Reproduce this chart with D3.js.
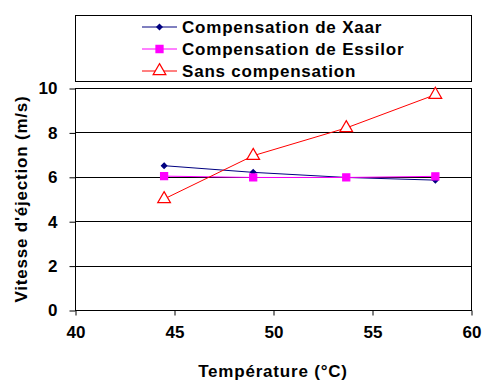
<!DOCTYPE html>
<html lang="fr">
<head>
<meta charset="UTF-8">
<title>Vitesse d'éjection</title>
<script src="https://d3js.org/d3.v7.min.js"></script>
<style>
  body { margin: 0; background: #fff; }
  svg text { font-family: "Liberation Sans", Arial, sans-serif !important; font-weight: bold !important; fill: #000; }
  .label { letter-spacing: 0.8px; }
</style>
</head>
<body>
<script>
  // data
  const temperatures = [44.5, 49.0, 53.7, 58.2];
  const xaar = [6.5, 6.2, 5.97, 5.85];
  const essilor = [6.03, 5.97, 5.97, 6.02];
  const sansComp = [5.0, 6.95, 8.2, 9.7];
  const xTicks = [40, 45, 50, 55, 60];
  const yTicks = [0, 2, 4, 6, 8, 10];

  const width = 484, height = 381;
  const margin = { left: 75, right: 13, top: 88, bottom: 71 };
  const fs = 17;

  const svg = d3.select('body').append('svg').attr('width', width).attr('height', height);

  const x = d3.scaleLinear().domain([40, 60]).range([margin.left, width - margin.right]);
  const y = d3.scaleLinear().domain([0, 10]).range([height - margin.bottom, margin.top]);

  // grid lines
  svg.append('g').selectAll('line')
    .data(yTicks.filter(d => d > 0 && d < 10))
    .enter().append('line')
    .attr('x1', x(40)).attr('x2', x(60))
    .attr('y1', d => Math.round(y(d)) + 0.5).attr('y2', d => Math.round(y(d)) + 0.5)
    .attr('stroke', '#000').attr('stroke-width', 1);

  // plot box
  svg.append('rect')
    .attr('x', x(40) + 0.5).attr('y', Math.round(y(10)) + 0.5)
    .attr('width', x(60) - x(40)).attr('height', Math.round(y(0)) - Math.round(y(10)))
    .attr('fill', 'none').attr('stroke', '#000');

  // axes
  const xAxis = svg.append('g')
    .attr('transform', `translate(0.5, ${Math.round(y(0)) + 0.5})`)
    .call(d3.axisBottom(x).tickValues(xTicks).tickSize(5).tickPadding(10));
  xAxis.select('.domain').remove();
  xAxis.selectAll('text').attr('font-size', fs);

  const yAxis = svg.append('g')
    .attr('transform', `translate(${x(40) + 0.5}, 0.5)`)
    .call(d3.axisLeft(y).tickValues(yTicks).tickSize(6).tickPadding(12));
  yAxis.select('.domain').remove();
  yAxis.selectAll('text').attr('font-size', fs);

  // axis titles
  svg.append('text').attr('class', 'label')
    .attr('x', (x(40) + x(60)) / 2).attr('y', 377)
    .attr('text-anchor', 'middle').attr('font-size', fs)
    .text('Température (°C)');

  svg.append('text').attr('class', 'label')
    .attr('transform', `translate(27, ${(y(0) + y(10)) / 2}) rotate(-90)`)
    .attr('text-anchor', 'middle').attr('font-size', fs)
    .text("Vitesse d'éjection (m/s)");

  const line = d3.line().x(d => x(d[0])).y(d => y(d[1]));

  const series = [
    { name: 'Compensation de Xaar', values: xaar, color: '#000080', symbol: d3.symbolDiamond2, size: 18, fill: '#000080' },
    { name: 'Compensation de Essilor', values: essilor, color: '#FF00FF', symbol: d3.symbolSquare, size: 50, fill: '#FF00FF' },
    { name: 'Sans compensation', values: sansComp, color: '#FF0000', symbol: d3.symbolTriangle, size: 70, fill: '#fff' }
  ];

  series.forEach(s => {
    const pts = temperatures.map((t, i) => [t, s.values[i]]);
    svg.append('path').datum(pts)
      .attr('d', line).attr('fill', 'none')
      .attr('stroke', s.color).attr('stroke-width', 1);
    svg.append('g').selectAll('path')
      .data(pts).enter().append('path')
      .attr('transform', d => `translate(${x(d[0])}, ${y(d[1])})`)
      .attr('d', d3.symbol().type(s.symbol).size(s.size))
      .attr('fill', s.fill).attr('stroke', s.color).attr('stroke-width', 1.2);
  });

  // legend
  const legend = svg.append('g');
  legend.append('rect')
    .attr('x', 75.5).attr('y', 15.5).attr('width', 396).attr('height', 66)
    .attr('fill', '#fff').attr('stroke', '#000');

  series.forEach((s, i) => {
    const ly = 27 + i * 22;
    legend.append('line')
      .attr('x1', 142).attr('x2', 177).attr('y1', ly).attr('y2', ly)
      .attr('stroke', s.color).attr('stroke-width', 1);
    legend.append('path')
      .attr('transform', `translate(159.5, ${ly})`)
      .attr('d', d3.symbol().type(s.symbol).size(s.size))
      .attr('fill', s.fill).attr('stroke', s.color).attr('stroke-width', 1.2);
    legend.append('text').attr('class', 'label')
      .attr('x', 182).attr('y', ly + 6)
      .attr('font-size', fs)
      .text(s.name);
  });
</script>
</body>
</html>
